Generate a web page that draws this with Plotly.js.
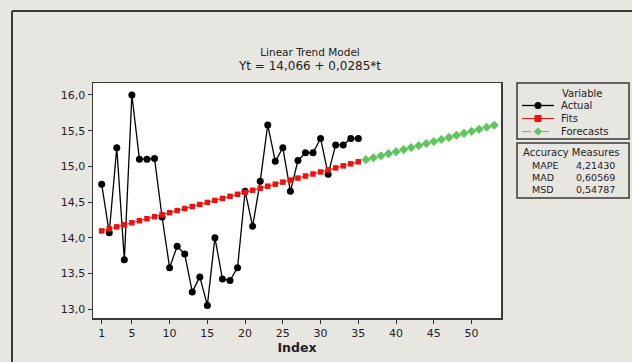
<!DOCTYPE html>
<html>
<head>
<meta charset="utf-8">
<script src="https://cdn.plot.ly/plotly-3.0.1.min.js"></script>
<style>html,body{margin:0;padding:0;background:#e8e6e0;}#chart{width:632px;height:362px;}</style>
</head>
<body>
<div id="chart"></div>
<script>
// ---- data ----
const actualIndex = [1,2,3,4,5,6,7,8,9,10,11,12,13,14,15,16,17,18,19,20,21,22,23,24,25,26,27,28,29,30,31,32,33,34,35];
const actualValues = [14.75,14.07,15.26,13.69,16.00,15.10,15.10,15.11,14.29,13.58,13.88,13.77,13.24,13.45,13.05,14.00,13.42,13.40,13.58,14.65,14.16,14.79,15.58,15.07,15.26,14.65,15.08,15.19,15.19,15.39,14.89,15.30,15.30,15.39,15.39];
const fitValues = [14.0945,14.1230,14.1515,14.1800,14.2085,14.2370,14.2655,14.2940,14.3225,14.3510,14.3795,14.4080,14.4365,14.4650,14.4935,14.5220,14.5505,14.5790,14.6075,14.6360,14.6645,14.6930,14.7215,14.7500,14.7785,14.8070,14.8355,14.8640,14.8925,14.9210,14.9495,14.9780,15.0065,15.0350,15.0635];
const forecastIndex = [36,37,38,39,40,41,42,43,44,45,46,47,48,49,50,51,52,53];
const forecastValues = [15.0920,15.1205,15.1490,15.1775,15.2060,15.2345,15.2630,15.2915,15.3200,15.3485,15.3770,15.4055,15.4340,15.4625,15.4910,15.5195,15.5480,15.5765];
const xTickValues = [1,5,10,15,20,25,30,35,40,45,50];
const yTickValues = [13.0,13.5,14.0,14.5,15.0,15.5,16.0];
const yTickLabels = ["13,0","13,5","14,0","14,5","15,0","15,5","16,0"];
const seriesNames = ["Actual","Fits","Forecasts"];
const accuracyNames = ["MAPE","MAD","MSD"];
const accuracyValues = ["4,21430","0,60569","0,54787"];

// ---- geometry helpers (pixel -> paper) ----
const L = 93, R = 501, T = 83, B = 318, W = 632, H = 362;
const px = x => (x - L) / (R - L);
const py = y => (B - y) / (B - T);

const colors = {actual: "#000000", fits: "#f01010", forecasts: "#5cc65c", frame: "#3a3a3a"};
const FONT = "DejaVu Sans, Verdana, sans-serif";

const traces = [
  {x: actualIndex, y: actualValues, name: seriesNames[0], type: "scatter", mode: "lines+markers",
   line: {color: colors.actual, width: 1.3}, marker: {symbol: "circle", size: 7, color: colors.actual}},
  {x: actualIndex, y: fitValues, name: seriesNames[1], type: "scatter", mode: "lines+markers",
   line: {color: colors.fits, width: 1}, marker: {symbol: "square", size: 5.5, color: colors.fits}},
  {x: forecastIndex, y: forecastValues, name: seriesNames[2], type: "scatter", mode: "lines+markers",
   line: {color: colors.forecasts, width: 1, dash: "dash"}, marker: {symbol: "diamond", size: 7, color: colors.forecasts}}
];

// ---- manual legend + accuracy box ----
const shapes = [
  {type: "line", xref: "paper", yref: "paper", x0: px(12), x1: px(700), y0: py(11), y1: py(11), line: {color: colors.frame, width: 2}},
  {type: "line", xref: "paper", yref: "paper", x0: px(12), x1: px(12), y0: py(11), y1: py(400), line: {color: colors.frame, width: 2}},
  {type: "rect", xref: "paper", yref: "paper", x0: px(517), x1: px(629), y0: py(83), y1: py(139), line: {color: colors.frame, width: 1.5}},
  {type: "rect", xref: "paper", yref: "paper", x0: px(517), x1: px(629), y0: py(143), y1: py(198), line: {color: colors.frame, width: 1.5}}
];
const annotations = [];
const legendRows = [105.5, 118.5, 131.5];
const legendStyles = [
  {color: colors.actual, dash: "solid", w: 1.3},
  {color: colors.fits, dash: "solid", w: 1},
  {color: colors.forecasts, dash: "dash", w: 1}
];
annotations.push({xref: "paper", yref: "paper", x: px(560), y: py(93.5), xanchor: "left", yanchor: "middle",
  text: "Variable", showarrow: false, font: {family: FONT, size: 10, color: "#222"}});
seriesNames.forEach((nm, i) => {
  const yy = legendRows[i];
  const st = legendStyles[i];
  shapes.push({type: "line", xref: "paper", yref: "paper", x0: px(522), x1: px(554), y0: py(yy), y1: py(yy),
    line: {color: st.color, width: st.w, dash: st.dash}});
  const cx = 538;
  if (i === 0) {
    shapes.push({type: "circle", xref: "paper", yref: "paper", x0: px(cx - 3.5), x1: px(cx + 3.5), y0: py(yy - 3.5), y1: py(yy + 3.5),
      fillcolor: st.color, line: {color: st.color, width: 0}});
  } else if (i === 1) {
    shapes.push({type: "rect", xref: "paper", yref: "paper", x0: px(cx - 3.5), x1: px(cx + 3.5), y0: py(yy - 3.5), y1: py(yy + 3.5),
      fillcolor: st.color, line: {color: st.color, width: 0}});
  } else {
    const p = `M ${px(cx - 4)},${py(yy)} L ${px(cx)},${py(yy - 4)} L ${px(cx + 4)},${py(yy)} L ${px(cx)},${py(yy + 4)} Z`;
    shapes.push({type: "path", xref: "paper", yref: "paper", path: p, fillcolor: st.color, line: {color: st.color, width: 0}});
  }
  annotations.push({xref: "paper", yref: "paper", x: px(559), y: py(yy), xanchor: "left", yanchor: "middle",
    text: nm, showarrow: false, font: {family: FONT, size: 10, color: "#222"}});
});
annotations.push({xref: "paper", yref: "paper", x: px(571), y: py(152.5), xanchor: "center", yanchor: "middle",
  text: "Accuracy Measures", showarrow: false, font: {family: FONT, size: 10, color: "#222"}});
const accRows = [165, 177.5, 189.5];
accuracyNames.forEach((nm, i) => {
  annotations.push({xref: "paper", yref: "paper", x: px(530), y: py(accRows[i]), xanchor: "left", yanchor: "middle",
    text: nm, showarrow: false, font: {family: FONT, size: 9.5, color: "#222"}});
  annotations.push({xref: "paper", yref: "paper", x: px(617), y: py(accRows[i]), xanchor: "right", yanchor: "middle",
    text: accuracyValues[i], showarrow: false, font: {family: FONT, size: 9.5, color: "#222"}});
});

const layout = {
  width: W, height: H,
  paper_bgcolor: "#e8e6e0",
  plot_bgcolor: "#ffffff",
  margin: {l: L, r: W - R, t: T, b: H - B, pad: 0},
  showlegend: false,
  title: {
    text: 'Linear Trend Model<br><span style="font-size:12px">Yt = 14,066 + 0,0285*t</span>',
    font: {family: FONT, size: 10.5, color: "#222"},
    x: 310 / W, xanchor: "center", xref: "container",
    y: 1 - 56 / H, yanchor: "top", yref: "container"
  },
  xaxis: {
    range: [-0.15, 53.9], tickmode: "array", tickvals: xTickValues,
    ticks: "outside", ticklen: 4, tickwidth: 1, tickcolor: "#333",
    showgrid: false, zeroline: false, showline: true, mirror: true, linecolor: colors.frame, linewidth: 1.5,
    tickfont: {family: FONT, size: 11, color: "#222"},
    title: {text: "<b>Index</b>", font: {family: FONT, size: 12.5, color: "#222"}, standoff: 4}
  },
  yaxis: {
    range: [12.874, 16.168], tickmode: "array", tickvals: yTickValues, ticktext: yTickLabels,
    ticks: "outside", ticklen: 4, tickwidth: 1, tickcolor: "#333",
    showgrid: false, zeroline: false, showline: true, mirror: true, linecolor: colors.frame, linewidth: 1.5,
    tickfont: {family: FONT, size: 11, color: "#222"}
  },
  shapes: shapes,
  annotations: annotations
};

Plotly.newPlot("chart", traces, layout, {displayModeBar: false, staticPlot: true});
</script>
</body>
</html>
